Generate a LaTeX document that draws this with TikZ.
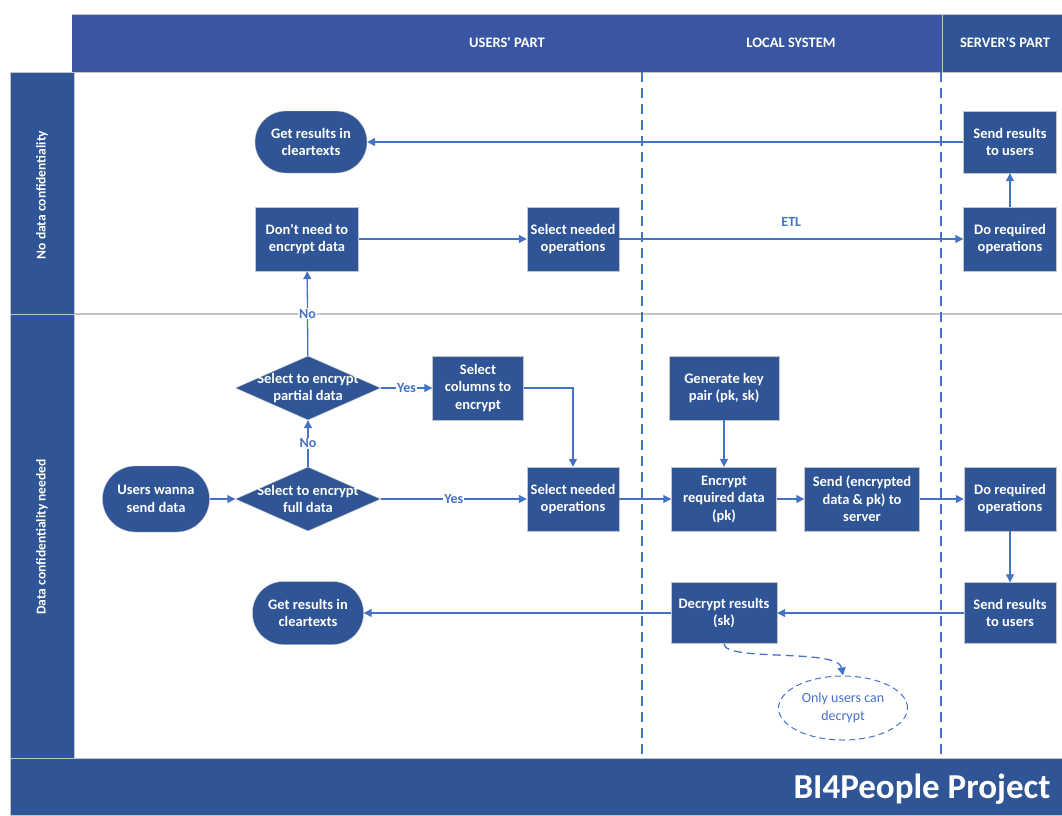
\documentclass[tikz,border=0pt]{standalone}
\usepackage{fontspec}
\setmainfont{Carlito}
\usetikzlibrary{positioning,calc,arrows.meta,shapes.geometric}
\tikzset{>={Triangle[length=8pt,width=8pt]}}
\definecolor{lanebg}{HTML}{2F5597}
\definecolor{headbg}{HTML}{3A56A3}
\definecolor{flow}{HTML}{4472C4}
\definecolor{rim}{HTML}{C4C4C4}

\begin{document}
\begin{tikzpicture}[x=1pt,y=-1pt,
  box/.style={draw=rim,fill=lanebg,text=white,font=\bfseries\fontsize{14.5}{17.5}\selectfont,align=center,inner sep=0pt,minimum height=64pt},
  term/.style={box,rounded corners=31pt,minimum height=62pt},
  dec/.style={box,diamond,minimum width=145pt,minimum height=64pt},
  flowline/.style={draw=flow,line width=1.3pt},
  lbl/.style={fill=white,text=flow,font=\bfseries\fontsize{14}{16}\selectfont,inner sep=1pt},
  head/.style={text=white,font=\bfseries\fontsize{14.5}{16}\selectfont},
  lane/.style={draw=rim,fill=lanebg,line width=0.8pt}]
\useasboundingbox (0,0) rectangle (1062,815);

% lanes and header
\fill[headbg] (72,14) rectangle (942,72);
\fill[lanebg] (942,14) rectangle (1062,73);
\draw[rim,line width=0.8pt] (72,14) -- (1062,14) (942,14) -- (942,73) (72,72) -- (1062,72);
\draw[lane] (10,72) rectangle (74,314);
\draw[lane] (10,314) rectangle (74,758);
\draw[rim,line width=1.2pt] (74,314) -- (1062,314);
\draw[lane] (10,758) rectangle (1062,815);
\node[head] (husers) at (507,43) {USERS\textquotesingle{} PART};
\node[head] (hlocal) at (791,43) {LOCAL SYSTEM};
\node[head] (hserver) at (1005,43) {SERVER\textquotesingle{}S PART};
\node[head,rotate=90,font=\bfseries\fontsize{13.5}{15}\selectfont] (laneA) at (42,195) {No data confidentiality};
\node[head,rotate=90,font=\bfseries\fontsize{13.5}{15}\selectfont] (laneB) at (42,537) {Data confidentiality needed};
\node[anchor=east,text=white,font=\bfseries\fontsize{35}{40}\selectfont] (title) at (1054,789) {BI4People Project};
\draw[flow,line width=1.3pt,dash pattern=on 10pt off 6pt] (642,72) -- (642,758);
\draw[flow,line width=1.3pt,dash pattern=on 10pt off 6pt] (941,72) -- (941,758);

% no confidentiality
\node[term,minimum width=112pt] (getA) at (311,142) {Get results in\\cleartexts};
\node[box,minimum width=103pt] (noenc) at (307,239) {Don\textquotesingle{}t need to\\encrypt data};
\node[box,minimum width=92pt] (selA) at (573,239) {Select needed\\operations};
\node[box,minimum width=93pt,minimum height=62pt] (sendA) at (1010,142) {Send results\\to users};
\node[box,minimum width=93pt] (doA) at (1010,239) {Do required\\operations};

% confidentiality needed
\node[term,minimum width=107pt,minimum height=66pt,rounded corners=33pt] (start) at (156,499) {Users wanna\\send data};
\node[dec] (part) at (308,388) {\makebox[0pt]{Select to encrypt}\\\makebox[0pt]{partial data}};
\node[dec] (full) at (308,499) {\makebox[0pt]{Select to encrypt}\\\makebox[0pt]{full data}};
\node[box,minimum width=91pt] (cols) at (478,388) {Select\\columns to\\encrypt};
\node[box,minimum width=92pt] (selB) at (573,499) {Select needed\\operations};
\node[box,minimum width=110pt] (key) at (724,388) {Generate key\\pair (pk, sk)};
\node[box,minimum width=105pt] (enc) at (724,499) {Encrypt\\required data\\(pk)};
\node[box,minimum width=115pt] (send) at (862,499) {Send (encrypted\\data \& pk) to\\server};
\node[box,minimum width=92pt] (doB) at (1010,499) {Do required\\operations};
\node[box,minimum width=92pt,minimum height=61pt] (sendB) at (1010,613) {Send results\\to users};
\node[box,minimum width=106pt,minimum height=61pt] (decr) at (724,613) {Decrypt results\\(sk)};
\node[term,minimum width=111pt,minimum height=63pt] (getB) at (308,613) {Get results in\\cleartexts};
\node[ellipse,draw=flow,line width=1pt,dash pattern=on 6pt off 4pt,text=flow,minimum width=129pt,minimum height=64pt,align=center,inner sep=0pt,font=\fontsize{14}{17.5}\selectfont] (note) at (843,708) {Only users can\\decrypt};

\draw[flowline,->] (sendA) -- (getA);
\draw[flowline,->] (noenc) -- (selA);
\draw[flowline,->] (selA) -- node[above=9pt,text=flow,font=\bfseries\fontsize{14}{16}\selectfont] {ETL} (doA);
\draw[flowline,->] (doA) -- (sendA);
\draw[flowline,->] (start) -- (full);
\draw[flowline,->] (full) -- node[lbl] {No} (part);
\draw[flowline,->] (part) -- node[lbl] {No} (noenc);
\draw[flowline,->] (part) -- node[lbl] {Yes} (cols);
\draw[flowline,->] (cols.east) -| (selB.north);
\draw[flowline,->] (full) -- node[lbl] {Yes} (selB);
\draw[flowline,->] (selB) -- (enc);
\draw[flowline,->] (key) -- (enc);
\draw[flowline,->] (enc) -- (send);
\draw[flowline,->] (send) -- (doB);
\draw[flowline,->] (doB) -- (sendB);
\draw[flowline,->] (sendB) -- (decr);
\draw[flowline,->] (decr) -- (getB);
\draw[flowline,dash pattern=on 8pt off 5pt,->] (decr.south) .. controls (724,662) and (838,648) .. (note.north);
\end{tikzpicture}
\end{document}
